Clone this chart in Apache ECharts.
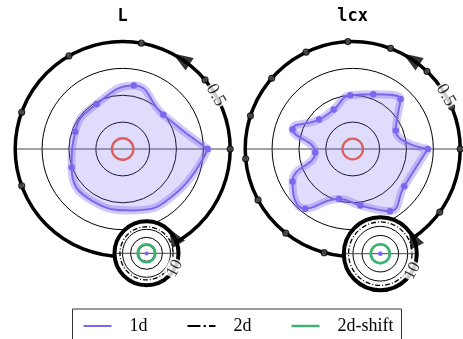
<!DOCTYPE html>
<html><head><meta charset="utf-8">
<script src="https://cdn.jsdelivr.net/npm/echarts@6/dist/echarts.min.js"></script>
<style>html,body{margin:0;padding:0;background:#fff}#c{width:463px;height:339px}</style>
</head><body><div id="c"></div>
<script>
// ---- data ----
const panelTitles = ['L', 'lcx'];
const legendNames = ['1d', '2d', '2d-shift'];
const bigRMax = 0.5;            // outer ring value (label "0.5")
const insetRMax = 10;           // inset ring value (label "10")
const bigTickLabel = '0.5';
const insetTickLabel = '10';

// panel L : 1d curve (radius, angle in degrees)
const leftAngles = [0, 40, 80, 120, 160, 200, 240, 280, 320];
const left1d     = [0.396, 0.247, 0.300, 0.242, 0.235, 0.253, 0.280, 0.290, 0.322];
const leftTickAngles = [0, 40, 80, 120, 160, 200];

// panel lcx : 1d curve
const rightAngles = [0, 23.1, 46.3, 69.4, 92.6, 115.7, 138.9, 162.0, 185.2, 208.3, 231.5, 254.6, 277.8, 300.9, 324.1];
const right1d     = [0.350, 0.218, 0.322, 0.272, 0.250, 0.204, 0.208, 0.294, 0.175, 0.318, 0.355, 0.241, 0.265, 0.337, 0.296];
const rightTickAngles = rightAngles;

// constant-radius rings
const redRing   = [0.050, 0.048];   // big panels
const ring2d    = [8.3, 8.7];       // insets, dash-dot
const ring2dShift = [2.8, 2.6];     // insets, green

// arrow and label angles (degrees)
const bigArrowAngle = [57, 57];
const insetArrowAngle = [32, 26];
const bigLabelAngle = [30, 30];
const insetLabelAngle = [332, 332];

// ---- styling ----
const PURPLE = '#7b68ee', GREEN = '#3cb371', RED = '#d9605f';
const SERIF = 'Liberation Serif';

function pts(angles, vals) {
  const d = angles.map((a, i) => [vals[i], a]);
  d.push([vals[0], 360]);
  return d;
}
function markedPts(angles, vals, nMarked) {
  const d = angles.map((a, i) => ({ value: [vals[i], a], symbol: i < nMarked ? 'circle' : 'none' }));
  d.push({ value: [vals[0], 360], symbol: 'none' });
  return d;
}
function ring(name, polarIndex, r, color, width, dash, z, fill) {
  return {
    type: 'custom', name: name, coordinateSystem: 'polar', polarIndex: polarIndex, z: z, silent: true,
    itemStyle: { color: color },
    data: [[r, 0]],
    renderItem: function (params, api) {
      const c = api.coord([0, 0]);
      const p = api.coord([api.value(0), 0]);
      const rr = Math.hypot(p[0] - c[0], p[1] - c[1]);
      return { type: 'circle', shape: { cx: c[0], cy: c[1], r: rr },
        style: { fill: fill || null, stroke: color, lineWidth: width, lineDash: dash } };
    }
  };
}

const polars = [
  { center: [122.7, 149], radius: 107.5 },
  { center: [352.7, 149], radius: 107.5 },
  { center: [146.5, 253.3], radius: 32 },
  { center: [380.3, 253.7], radius: 36.5 }
];

const angleAxes = polars.map((p, i) => ({
  polarIndex: i, type: 'value', min: 0, max: 360, interval: 180, startAngle: 0, clockwise: false,
  z: i < 2 ? 0 : 21,
  axisLine: { show: true, lineStyle: { color: '#000', width: i < 2 ? 3.5 : 4 } },
  axisTick: { show: false }, axisLabel: { show: false },
  splitLine: { show: true, lineStyle: { color: '#444', width: 1 } }
}));
const radiusAxes = polars.map((p, i) => {
  const mx = i < 2 ? bigRMax : insetRMax;
  return {
    polarIndex: i, type: 'value', min: 0, max: mx, interval: mx / 4,
    z: i < 2 ? 0 : 20,
    axisLine: { show: false }, axisTick: { show: false }, axisLabel: { show: false },
    splitLine: { show: true, lineStyle: { color: '#000', width: 1 } }
  };
});

const series = [];
const curves = [
  { angles: leftAngles, vals: left1d, ticks: leftTickAngles },
  { angles: rightAngles, vals: right1d, ticks: rightTickAngles }
];
curves.forEach((cv, k) => {
  const big = k, inset = k + 2;
  // big panel
  series.push({ type: 'line', name: '1d-halo', coordinateSystem: 'polar', polarIndex: big, z: 2, silent: true,
    data: pts(cv.angles, cv.vals), smooth: 0.5, symbol: 'none',
    lineStyle: { width: 8, color: 'rgba(123,104,238,0.35)' } });
  series.push({ type: 'line', name: '1d', coordinateSystem: 'polar', polarIndex: big, z: 3, silent: true,
    data: markedPts(cv.angles, cv.vals, cv.ticks.length), smooth: 0.5, showSymbol: true, showAllSymbol: true,
    symbolSize: 6.5, itemStyle: { color: PURPLE },
    lineStyle: { width: 2, color: PURPLE }, areaStyle: { color: 'rgba(123,104,238,0.33)' } });
  series.push(ring('red', big, redRing[k], RED, 2.3, null, 4));
  series.push({ type: 'scatter', name: 'ticks', coordinateSystem: 'polar', polarIndex: big, z: 5, silent: true,
    data: cv.ticks.map(a => [bigRMax, a]), symbol: 'circle', symbolSize: 6,
    itemStyle: { color: '#555', borderColor: '#000', borderWidth: 1.2 } });
  series.push({ type: 'scatter', name: 'arrow', coordinateSystem: 'polar', polarIndex: big, z: 5, silent: true,
    data: [[bigRMax, bigArrowAngle[k]]], symbol: 'triangle', symbolSize: [15, 20], symbolRotate: bigArrowAngle[k],
    itemStyle: { color: '#000' } });
  series.push({ type: 'scatter', name: 'lab', coordinateSystem: 'polar', polarIndex: big, z: 6, silent: true,
    data: [[bigRMax, bigLabelAngle[k]]], symbolSize: 1, itemStyle: { color: 'rgba(0,0,0,0)' },
    label: { show: true, position: 'inside', formatter: bigTickLabel, rotate: bigLabelAngle[k] - 90,
      fontFamily: SERIF, fontSize: 18, color: '#000', backgroundColor: '#fff', padding: [0, 1] } });
  // inset: white disc underneath its axes
  series.push(ring('disc', inset, insetRMax, '#fff', 1, null, 19, '#fff'));
  series.push({ type: 'line', name: '1d', coordinateSystem: 'polar', polarIndex: inset, z: 22, silent: true,
    data: pts(cv.angles, cv.vals), smooth: 0.5, symbol: 'none',
    lineStyle: { width: 2.5, color: PURPLE }, areaStyle: { color: PURPLE } });
  series.push(ring('2d', inset, ring2d[k], '#000', 1.3, [5, 2, 1, 2], 23));
  series.push(ring('2d-shift', inset, ring2dShift[k], GREEN, 2.6, null, 23));
  series.push({ type: 'scatter', name: 'arrow', coordinateSystem: 'polar', polarIndex: inset, z: 24, silent: true,
    data: [[insetRMax, insetArrowAngle[k]]], symbol: 'triangle', symbolSize: [15, 19], symbolRotate: insetArrowAngle[k],
    itemStyle: { color: '#000' } });
  series.push({ type: 'scatter', name: 'lab', coordinateSystem: 'polar', polarIndex: inset, z: 25, silent: true,
    data: [[insetRMax, insetLabelAngle[k]]], symbolSize: 1, itemStyle: { color: 'rgba(0,0,0,0)' },
    label: { show: true, position: 'inside', formatter: insetTickLabel, rotate: insetLabelAngle[k] - 270,
      fontFamily: SERIF, fontSize: 17, color: '#000', backgroundColor: '#fff', padding: [0, 1] } });
});

const chart = echarts.init(document.getElementById('c'));
chart.setOption({
  animation: false,
  backgroundColor: '#fff',
  title: panelTitles.map((t, i) => ({
    text: t, left: polars[i].center[0], top: 8, textAlign: 'center', padding: 0,
    textStyle: { fontFamily: 'DejaVu Sans Mono', fontWeight: 'bold', fontSize: 17, color: '#000' }
  })),
  legend: {
    left: 72.5, top: 309, orient: 'horizontal', selectedMode: false,
    padding: [8, 8, 20, 11], borderColor: '#333', borderWidth: 1, borderRadius: 0,
    itemWidth: 28, itemHeight: 14, itemGap: 40,
    textStyle: { fontFamily: SERIF, fontSize: 18, color: '#000', padding: [0, 0, 0, 13] },
    data: [
      { name: legendNames[0], icon: 'path://M0,0H28V2H0Z', itemStyle: { color: PURPLE, borderWidth: 0 } },
      { name: legendNames[1], icon: 'path://M0,0H12V2H0Z M15,0H17V2H15Z M20,0H26V2H20Z', itemStyle: { color: '#000', borderWidth: 0 } },
      { name: legendNames[2], icon: 'path://M0,0H28V2.4H0Z', itemStyle: { color: GREEN, borderWidth: 0 } }
    ]
  },
  polar: polars,
  angleAxis: angleAxes,
  radiusAxis: radiusAxes,
  series: series
});
</script></body></html>
